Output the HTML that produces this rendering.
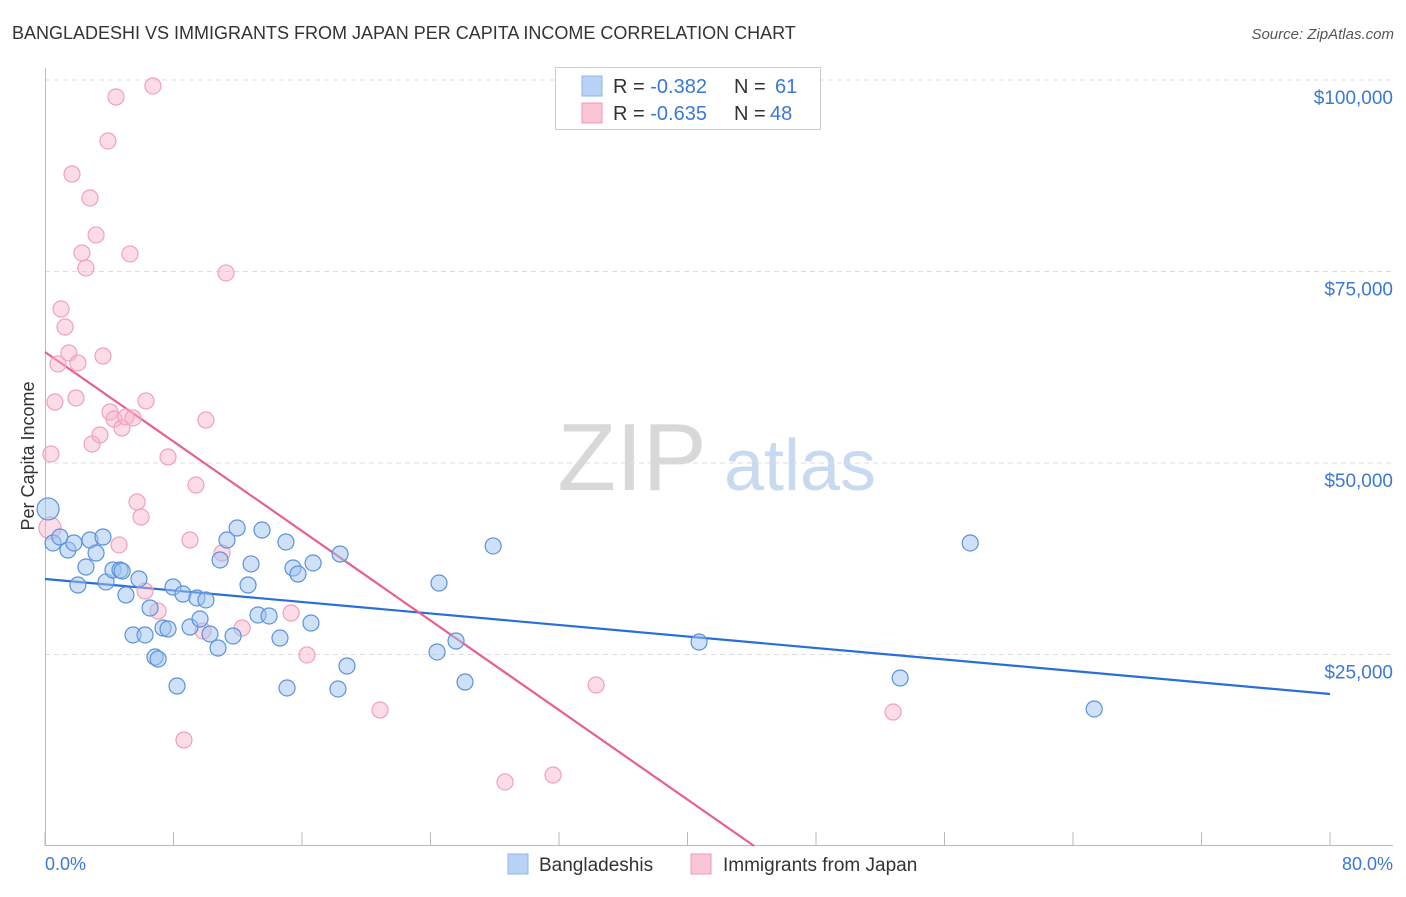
<!DOCTYPE html>
<html><head><meta charset="utf-8"><style>
body{margin:0;background:#fff;font-family:"Liberation Sans",sans-serif;}
svg text{font-family:"Liberation Sans",sans-serif;}
</style></head><body>
<svg id="chart" width="1406" height="892" xmlns="http://www.w3.org/2000/svg">
<text x="12" y="39" font-size="18" fill="#333">BANGLADESHI VS IMMIGRANTS FROM JAPAN PER CAPITA INCOME CORRELATION CHART</text>
<text x="1394" y="39" font-size="15" fill="#555" font-style="italic" text-anchor="end">Source: ZipAtlas.com</text>
<g>
<text x="632" y="490" font-size="96" fill="#d8d8d8" font-family="Liberation Serif" text-anchor="middle">ZIP</text>
<text x="800" y="490" font-size="72" fill="#c8daf0" text-anchor="middle">atlas</text>
</g>
<g id="grid"></g><g id="axes"></g><g id="trends"></g><g id="points"></g>
<text transform="translate(34,456) rotate(-90)" font-size="18" fill="#333" text-anchor="middle">Per Capita Income</text>
<text x="45" y="870" font-size="18" fill="#3a78d8">0.0%</text>
<text x="1393" y="870" font-size="18" fill="#3a78d8" text-anchor="end">80.0%</text>
<g>
<rect x="555.5" y="67.5" width="265" height="62" fill="#fff" stroke="#ccc"/>
<rect x="582" y="76" width="20" height="20" fill="#b8d3f5" stroke="#8fb5e8"/>
<rect x="582" y="103" width="20" height="20" fill="#fac6d6" stroke="#f09ab5"/>
<text x="613" y="93" font-size="20" fill="#333">R = <tspan fill="#3a78d8">-0.382</tspan><tspan x="734">N = </tspan><tspan x="775" fill="#3a78d8">61</tspan></text>
<text x="613" y="120" font-size="20" fill="#333">R = <tspan fill="#3a78d8">-0.635</tspan><tspan x="734">N = </tspan><tspan x="770" fill="#3a78d8">48</tspan></text>
</g>
<g>
<rect x="508" y="854" width="20" height="20" fill="#b8d3f5" stroke="#8fb5e8"/>
<text x="539" y="871" font-size="19" fill="#333">Bangladeshis</text>
<rect x="691" y="854" width="20" height="20" fill="#fac6d6" stroke="#f09ab5"/>
<text x="723" y="871" font-size="19" fill="#333">Immigrants from Japan</text>
</g>
</svg>
<script>
const yTicks=[25000,50000,75000,100000];
const yTickLabels=["$25,000","$50,000","$75,000","$100,000"];
const xTicks=[0,8,16,24,32,40,48,56,64,72,80];
const blueX=[0.19,0.5,0.93,1.43,1.8,2.05,2.55,2.8,3.18,3.61,3.8,4.23,4.67,4.8,5.04,5.48,5.85,6.23,6.54,6.85,7.04,7.35,7.66,7.97,8.22,8.59,9.03,9.46,9.65,10.02,10.27,10.77,10.9,11.33,11.71,11.96,12.64,12.83,13.26,13.51,13.95,14.63,15.0,15.07,15.44,15.75,16.56,16.69,18.24,18.37,18.8,24.41,24.53,25.59,26.15,27.9,40.72,53.24,57.6,65.32];
const blueY=[44000,39560,40340,38640,39560,34070,36420,39950,38250,40340,34470,36030,36030,35900,32770,27550,34860,27550,31070,24670,24410,28460,28330,33810,20890,32900,28590,32380,29630,32120,27680,25850,37340,39950,27420,41510,34070,36820,30160,41250,30030,27150,39690,20630,36290,35510,29110,36950,20500,38120,23500,25330,34330,26760,21410,39170,26630,21930,39560,17890];
const pinkX=[0.31,0.37,0.62,0.81,1.0,1.25,1.49,1.68,1.93,2.05,2.3,2.55,2.8,2.93,3.18,3.42,3.61,3.92,4.05,4.3,4.42,4.61,4.79,5.04,5.29,5.48,5.73,5.98,6.23,6.29,6.72,7.04,7.66,8.65,9.03,9.4,9.84,10.02,11.02,11.27,12.27,15.32,16.31,20.86,28.64,31.63,34.31,52.8];
const pinkY=[41510,51180,57960,62930,70100,67750,64360,87730,58490,63060,77420,75460,84600,52480,79770,53660,63970,92040,56660,55740,97780,39300,54570,56010,77290,55880,44910,42950,33290,58100,99220,30680,50780,13840,39950,47130,28070,55610,38250,74810,28460,30420,24940,17750,8360,9270,21020,17490];
const blueTrend=[[0,34860],[80,19840]];
const pinkTrend=[[0,64490],[44.15,0]];
const NS="http://www.w3.org/2000/svg";
const X0=45,X1=1330,Y0=846,PPY=191.5/25000;
function sx(v){return X0+(X1-X0)*v/80;}
function sy(v){return Y0-v*PPY;}
function mk(tag,attrs,parent){const e=document.createElementNS(NS,tag);for(const k in attrs)e.setAttribute(k,attrs[k]);document.getElementById(parent).appendChild(e);return e;}
yTicks.forEach((t,i)=>{
 const l=mk('line',{x1:45,x2:1393,y1:sy(t),y2:sy(t),stroke:'#ddd','stroke-dasharray':'5,4'},'grid');
 
 
 const tx=mk('text',{x:1393,y:sy(t)+24,'font-size':19,fill:'#3a78d8','text-anchor':'end'},'grid');
 tx.textContent=yTickLabels[i];
 
 
});
const ax=mk('line',{x1:45,x2:1393,y1:845.5,y2:845.5,stroke:'#bbb'},'axes');


const ay=mk('line',{x1:45.5,x2:45.5,y1:68,y2:846,stroke:'#bbb'},'axes');


xTicks.forEach(t=>{
 const l=mk('line',{x1:sx(t),x2:sx(t),y1:832,y2:846,stroke:'#bbb'},'axes');
 
 
});
function trend(tr,c,name){
 const l=mk('line',{x1:sx(tr[0][0]),y1:sy(tr[0][1]),x2:sx(tr[1][0]),y2:sy(tr[1][1]),stroke:c,'stroke-width':2.2},'trends');
 
 
}
trend(blueTrend,'#2a6fd6','bangladeshi-trendline');
trend(pinkTrend,'#e7608e','japan-trendline');
function pts(xs,ys,fill,stroke,name){
 xs.forEach((x,i)=>{
  const r=(i===0)?11:8;
  const c=mk('circle',{cx:sx(x),cy:sy(ys[i]),r:r,fill:fill,stroke:stroke,'stroke-width':1.2},'points');
  
  
 });
}
pts(pinkX,pinkY,'rgba(248,180,202,0.45)','#f0a0bb','japan-point');
pts(blueX,blueY,'rgba(160,196,240,0.5)','#5a92dc','bangladeshi-point');
</script>
</body></html>
